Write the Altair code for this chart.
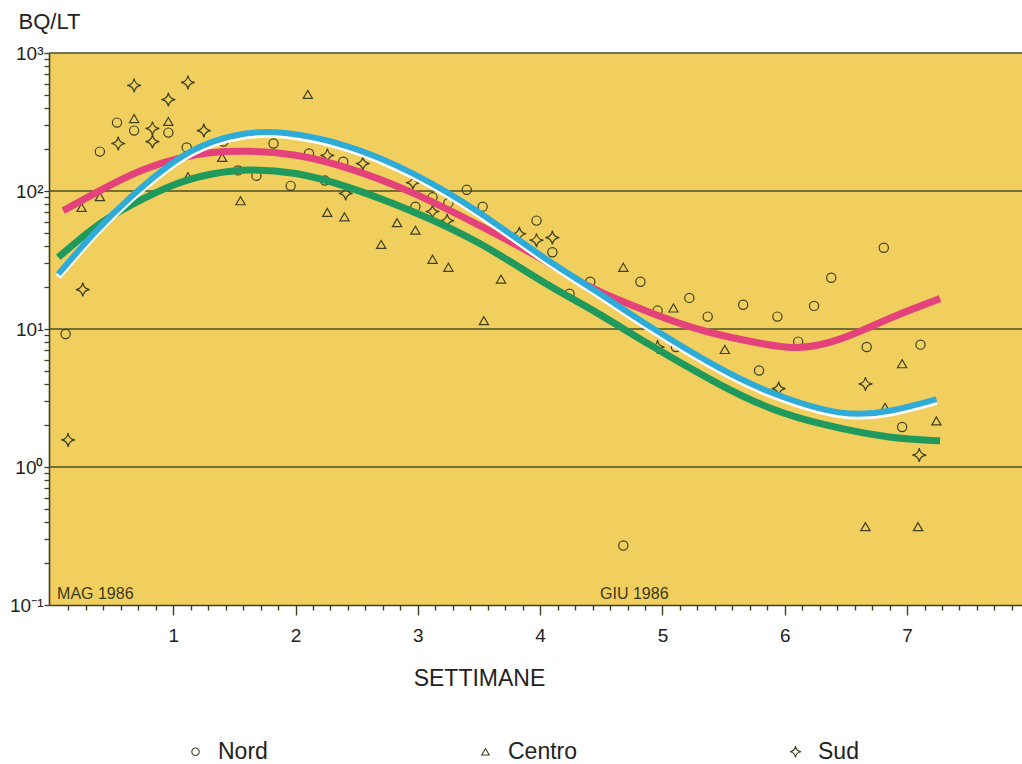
import altair as alt
import pandas as pd

# ---------------- data ----------------
nord_x = [0.12, 0.40, 0.54, 0.68, 0.96, 1.11, 1.41, 1.53, 1.68, 1.82, 1.96, 2.11, 2.24, 2.39,
          2.98, 3.12, 3.25, 3.40, 3.53, 3.97, 4.10, 4.24, 4.41, 4.68, 4.82, 4.96, 5.11, 5.22,
          5.37, 5.66, 5.79, 5.94, 6.11, 6.24, 6.38, 6.67, 6.81, 6.96, 7.11]
nord_y = [9.2, 193, 313, 274, 265, 207, 228, 141, 129, 221, 109, 187, 119, 163,
          77, 90, 82, 102, 77, 61, 36, 18, 22, 0.27, 22, 13.6, 7.4, 16.8,
          12.3, 15, 5.0, 12.3, 8.1, 14.7, 23.5, 7.4, 38.8, 1.95, 7.7]

centro_x = [0.25, 0.40, 0.68, 0.96, 1.12, 1.40, 1.55, 2.10, 2.26, 2.40, 2.70, 2.83, 2.98,
            3.12, 3.25, 3.54, 3.68, 4.68, 5.09, 5.51, 6.66, 6.82, 6.96, 7.09, 7.24]
centro_y = [76, 91, 335, 319, 127, 175, 85, 501, 70, 65, 41, 59, 52,
            32, 28, 11.5, 23, 28, 14.2, 7.1, 0.37, 2.7, 5.6, 0.37, 2.16]

sud_x = [0.14, 0.26, 0.55, 0.68, 0.83, 0.83, 0.96, 1.12, 1.25, 2.26, 2.41, 2.55, 2.96,
         3.12, 3.24, 3.83, 3.97, 4.10, 4.96, 5.95, 6.66, 7.10]
sud_y = [1.57, 19.3, 221, 582, 284, 228, 460, 612, 274, 181, 96, 158, 115,
         71, 61, 49, 44, 46, 7.4, 3.7, 4.0, 1.22]

pink_x = [0.10, 0.50, 0.77, 1.04, 1.32, 1.59, 2.00, 2.42, 2.96, 3.51, 4.06, 4.38, 4.92,
          5.33, 5.88, 6.07, 6.34, 6.61, 6.88, 7.27]
pink_y = [72, 113, 146, 175, 193, 196, 187, 150, 99, 56, 31, 20, 12.9,
          9.5, 7.6, 7.2, 7.7, 9.5, 12.3, 16.6]

cyan_x = [0.06, 0.36, 0.63, 1.04, 1.32, 1.59, 1.87, 2.42, 2.96, 3.51, 4.06, 4.38, 4.92,
          5.47, 5.88, 6.48, 6.86, 7.24]
cyan_y = [25, 51, 88, 178, 232, 265, 274, 221, 138, 71, 31, 21, 10,
          5.1, 3.4, 2.3, 2.5, 3.1]

green_x = [0.06, 0.36, 0.63, 1.04, 1.32, 1.59, 2.00, 2.42, 2.96, 3.51, 4.06, 4.38, 4.92,
           5.47, 5.88, 6.34, 6.88, 7.27]
green_y = [33, 56, 78, 117, 134, 145, 138, 109, 72, 43, 20.6, 14.7, 7.4,
           3.9, 2.6, 1.98, 1.6, 1.55]

zone_names = ["Nord", "Centro", "Sud"]
grid_values = [1, 10, 100, 1000]
x_tick_values = [i / 7 for i in range(1, 56)]
y_tick_values = sorted(set([round(d * 10 ** k, 6) for k in range(-1, 3) for d in range(1, 10)] + [1000]))

annot_text = ["MAG 1986", "GIU 1986"]
annot_x = [0.05, 4.49]
annot_y = [0.11, 0.11]

# ---------------- tables ----------------
points = pd.DataFrame({
    "x": nord_x + centro_x + sud_x,
    "y": nord_y + centro_y + sud_y,
    "zona": ["Nord"] * len(nord_x) + ["Centro"] * len(centro_x) + ["Sud"] * len(sud_x),
})
pink_df = pd.DataFrame({"x": pink_x, "y": pink_y})
cyan_df = pd.DataFrame({"x": cyan_x, "y": cyan_y})
green_df = pd.DataFrame({"x": green_x, "y": green_y})
grid_df = pd.DataFrame({"y": grid_values})
annot_df = pd.DataFrame({"x": annot_x, "y": annot_y, "t": annot_text})

DARK = "#3f4020"
FONT = "Liberation Sans"

x_scale = alt.Scale(domain=[-0.016, 7.94], nice=False, zero=False)
y_scale = alt.Scale(type="log", domain=[0.1, 1000], nice=False)

int_test = "abs(datum.value - round(datum.value)) < 0.01"
x_axis = alt.Axis(
    values=x_tick_values,
    labelExpr=f"({int_test}) && datum.value > 0.5 ? format(round(datum.value), 'd') : ''",
    tickSize={"condition": {"test": int_test, "value": 10}, "value": 5},
    labelPadding=11, labelFontSize=19, labelOverlap=False, grid=False,
    title="SETTIMANE", titleX=430, titleY=80, titleAlign="center",
    titleBaseline="alphabetic", titleFontSize=23, titleFontWeight="normal",
    domainWidth=1.6, tickWidth=1.4,
)
y_axis = alt.Axis(
    values=y_tick_values,
    labelExpr=("datum.value == 1000 ? '10³' : datum.value == 100 ? '10²' : "
               "datum.value == 10 ? '10¹' : datum.value == 1 ? '10⁰' : "
               "datum.value == 0.1 ? '10⁻¹' : ''"),
    tickSize=5, labelPadding=1, labelFontSize=19, labelOverlap=False, grid=False,
    title="BQ/LT", titleAngle=0, titleAlign="left", titleBaseline="middle",
    titleX=-31, titleY=-32, titleFontSize=22, titleFontWeight="normal",
    domainWidth=1.6, tickWidth=1.3,
)

X = alt.X("x:Q", scale=x_scale, axis=x_axis)
Y = alt.Y("y:Q", scale=y_scale, axis=y_axis)

grid = alt.Chart(grid_df).mark_rule(color="#4a4f24", strokeWidth=1.3).encode(y=Y)

star_path = ("M0,-1.5 Q0.18,-0.18 1.5,0 Q0.18,0.18 0,1.5 "
             "Q-0.18,0.18 -1.5,0 Q-0.18,-0.18 0,-1.5 Z")

pts = alt.Chart(points).mark_point(filled=False, size=85, strokeWidth=1.2, color=DARK, opacity=1).encode(
    x=X, y=Y,
    shape=alt.Shape("zona:N",
                    scale=alt.Scale(domain=zone_names, range=["circle", "triangle-up", star_path]),
                    legend=alt.Legend(title=None, orient="none", legendX=135, legendY=687,
                                      direction="horizontal", columnPadding=206,
                                      labelFontSize=23, labelFont=FONT, labelColor="#222",
                                      symbolSize=55, symbolStrokeWidth=1.1,
                                      symbolStrokeColor=DARK, symbolFillColor="transparent",
                                      labelOffset=11)),
)

def curve(df, color, width, interp="basis"):
    return alt.Chart(df).mark_line(color=color, strokeWidth=width, interpolate=interp,
                                   strokeCap="butt").encode(x=X, y=Y)

green_line = curve(green_df, "#1f9a5c", 7)
pink_line = curve(pink_df, "#e4427a", 7)
white_line = alt.Chart(cyan_df).transform_calculate(y2="datum.y * 0.955").mark_line(
    color="white", strokeWidth=6, interpolate="basis", strokeCap="butt"
).encode(x=X, y=alt.Y("y2:Q", scale=y_scale, axis=y_axis))
cyan_line = curve(cyan_df, "#2fabd8", 6)

annots = alt.Chart(annot_df).mark_text(
    align="left", baseline="alphabetic", font=FONT, fontSize=16, color="#3a3a20"
).encode(x=X, y=Y, text="t:N")

chart = alt.layer(grid, pts, green_line, pink_line, white_line, cyan_line, annots).properties(
    width=973, height=552,
    padding={"left": 49, "top": 53, "right": 0, "bottom": 159},
    autosize=alt.AutoSizeParams(type="none"),
    background="white",
).configure_view(
    stroke=None, fill="#f1cf5e"
).configure_axis(
    domainColor=DARK, tickColor=DARK, labelColor="#222", titleColor="#222",
    labelFont=FONT, titleFont=FONT,
)

chart.save("out.html", embed_options={"renderer": "svg", "actions": False})
